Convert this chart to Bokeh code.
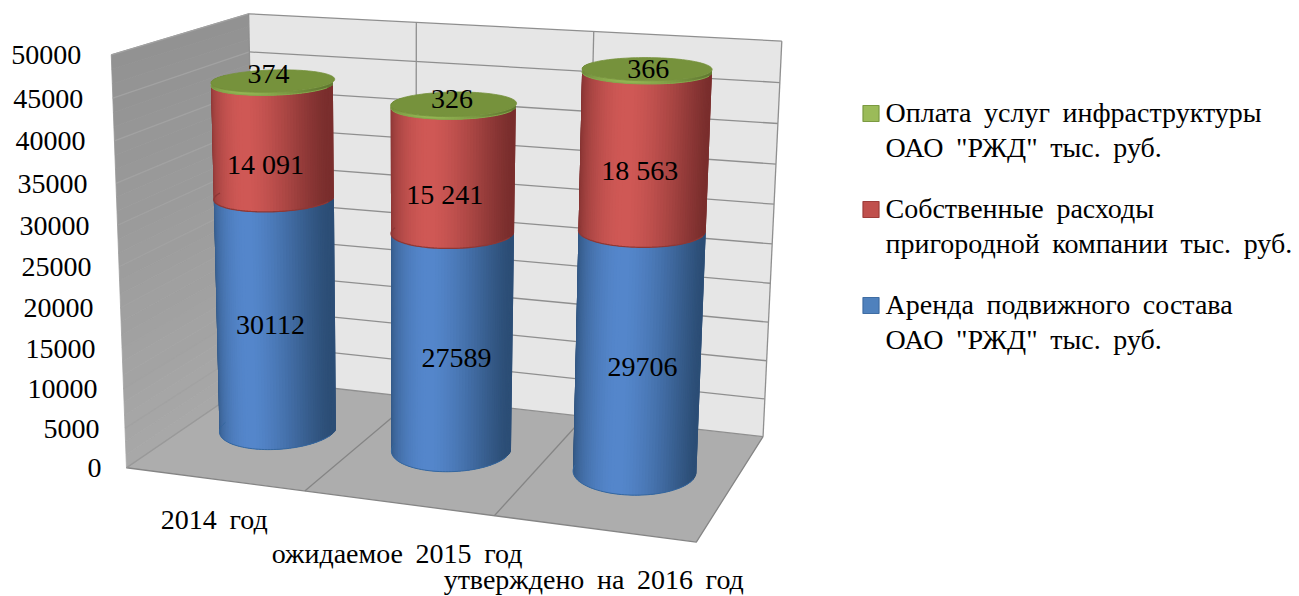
import numpy as np
from bokeh.plotting import figure
from bokeh.models import Range1d
from bokeh.core.properties import value
from bokeh.embed import file_html
from bokeh.resources import INLINE

GAP = " \u2009"  # the reference sets its words with wide gaps
categories = [f"2014{GAP}год", f"ожидаемое{GAP}2015{GAP}год", f"утверждено{GAP}на{GAP}2016{GAP}год"]
rent = [30112, 27589, 29706]
own_costs = [14091, 15241, 18563]
infra = [374, 326, 366]
y_ticks = [0, 5000, 10000, 15000, 20000, 25000, 30000, 35000, 40000, 45000, 50000]
own_labels = ["14 091", "15 241", "18 563"]
legend_lines = [[f"Оплата{GAP}услуг{GAP}инфраструктуры", f'ОАО{GAP}"РЖД"{GAP}тыс.{GAP}руб.'],
                [f"Собственные{GAP}расходы", f"пригородной{GAP}компании{GAP}тыс.{GAP}руб."],
                [f"Аренда{GAP}подвижного{GAP}состава", f'ОАО{GAP}"РЖД"{GAP}тыс.{GAP}руб.']]

YMAX = 50000.0
FONT = value("Liberation Serif")
FS = "28px"

# camera fitted to the picture (u along categories, d depth 0=back..1=front, v = value/YMAX)
world = [(0,0,1),(1/3,0,1),(2/3,0,1),(1,0,1),(1,0,0),(0,0,0),(0,1,0),(1,1,0),(1/3,1,0),(2/3,1,0),(0,1,1),
         (1/6,.5,0),(1/2,.5,0),(5/6,.5,0)]
image = [(250,13),(416,23),(593,31),(781,40),(763,435),(252,380),(127,467),(695,543),(305,490),(493,515),(109,54),
         (279.5,430),(452.5,450),(635.5,475)]
A = []
for (X,Y,Z),(x,y) in zip(world,image):
    x/=1000; y/=1000
    A.append([X,Y,Z,1,0,0,0,0,-x*X,-x*Y,-x*Z,-x])
    A.append([0,0,0,0,X,Y,Z,1,-y*X,-y*Y,-y*Z,-y])
P = np.linalg.svd(np.array(A))[2][-1].reshape(3,4)

def proj(u,d,val):
    u,d,val = np.broadcast_arrays(np.asarray(u,float),np.asarray(d,float),np.asarray(val,float)/YMAX)
    h = P @ np.stack([u,d,val,np.ones_like(u)])
    return (1000*h[0]/h[2]).tolist(), (1000*h[1]/h[2]).tolist()

W,H = 1299,596
p = figure(width=W,height=H,output_backend="svg",toolbar_location=None,
           x_range=Range1d(0,W),y_range=Range1d(H,0),min_border=0)
p.axis.visible=False; p.grid.visible=False; p.outline_line_color=None
p.background_fill_color="white"; p.border_fill_color="white"

def mix(a,b,t):
    a,b=np.array(a,float),np.array(b,float)
    c=a+(b-a)*t
    return "#%02x%02x%02x"%tuple(int(round(x)) for x in c)

# left wall gradient
vs=np.linspace(0,YMAX,31)
xs,ys,cs=[],[],[]
for i in range(30):
    x,y=proj([0,0,0,0],[1,0,0,1],[vs[i],vs[i],vs[i+1],vs[i+1]])
    xs.append(x);ys.append(y);cs.append(mix((168,168,168),(146,146,146),i/29))
p.patches(xs,ys,fill_color=cs,line_color=cs,line_width=0.8)
# back wall, floor
x,y=proj([0,1,1,0],[0,0,0,0],[0,0,YMAX,YMAX]); p.patch(x,y,fill_color="#e6e6e6",line_color=None)
x,y=proj([0,1,1,0],[0,0,1,1],[0,0,0,0]); p.patch(x,y,fill_color="#adadad",line_color=None)
# grid
gx,gy,gc=[],[],[]
for t in y_ticks:
    x,y=proj([0,1],[0,0],[t,t]); gx.append(x);gy.append(y);gc.append("#8f8f8f")
    x,y=proj([0,0],[1,0],[t,t]); gx.append(x);gy.append(y);gc.append("#a2a2a2")
for k in (1/3,2/3):
    x,y=proj([k,k],[0,0],[0,YMAX]); gx.append(x);gy.append(y);gc.append("#8f8f8f")
    x,y=proj([k,k],[0,1],[0,0]); gx.append(x);gy.append(y);gc.append("#858585")
x,y=proj([1,1],[0,0],[0,YMAX]); gx.append(x);gy.append(y);gc.append("#8f8f8f")
x,y=proj([0,0],[0,0],[0,YMAX]); gx.append(x);gy.append(y);gc.append("#8f8f8f")
x,y=proj([0,1,1],[1,1,0],[0,0,0]); gx.append(x);gy.append(y);gc.append("#858585")
x,y=proj([0,0],[0,1],[0,0]); gx.append(x);gy.append(y);gc.append("#999999")
p.multi_line(gx,gy,line_color=gc,line_width=1.3)

# cylinders
RU,RD,D0,U_SHIFT=0.1045,0.225,0.47,-0.006
theta=np.linspace(-0.2,np.pi+0.2,73)
n=len(theta)-1
order=np.argsort(-np.abs(np.cos((theta[:-1]+theta[1:])/2)))
def segment(u0,v0,v1,edge,mid):
    us=u0+RU*np.cos(theta); ds=D0+RD*np.sin(theta)
    xa,ya=proj(us,ds,np.full_like(us,v0)); xb,yb=proj(us,ds,np.full_like(us,v1))
    sx,sy,sc=[],[],[]
    for i in order:
        j0=max(i-1,0); j1=min(i+2,n)
        idx=list(range(j0,j1+1))
        sx.append([xa[k] for k in idx]+[xb[k] for k in idx[::-1]])
        sy.append([ya[k] for k in idx]+[yb[k] for k in idx[::-1]])
        c=np.cos((theta[i]+theta[i+1])/2)+0.01
        sc.append(mix(mid,edge,min(1,abs(c)**1.55)))
    p.patches(sx,sy,fill_color=sc,line_color=None)

def disc(u0,v,col):
    t=np.linspace(0,2*np.pi,121)
    x,y=proj(u0+RU*np.cos(t),D0+RD*np.sin(t),np.full_like(t,v))
    p.patch(x,y,fill_color=col,line_color=col,line_width=0.8)

def arc(u0,v,col,w=1.2):
    t=np.linspace(0.05,np.pi-0.05,60)
    x,y=proj(u0+RU*np.cos(t),D0+RD*np.sin(t),np.full_like(t,v))
    p.line(x,y,line_color=col,line_width=w)

BLUE=((44,78,118),(84,134,203)); RED=((122,46,45),(207,88,85)); GREEN=((98,122,50),(146,180,82))
# offsets of the data labels: (green, red, blue)
label_off=[[(-4,-8),(-8,22),(-6,8)],[(-2,-7),(-9,23),(4,13)],[(0,-1),(-6,17),(3,12)]]
lx,ly,lt=[],[],[]
centers=[1/6,1/2,5/6]
for i,uc in enumerate(centers):
    u0=uc+U_SHIFT
    a=rent[i]; b=a+own_costs[i]; c=b+infra[i]
    segment(u0,0,a,*BLUE)
    arc(u0,0,"#35679f",1.0)
    segment(u0,a,b,*RED)
    arc(u0,a,"#8d3836",1.3)
    segment(u0,b,c,*GREEN)
    arc(u0,b,"#86a64c",1.0)
    disc(u0,c,"#76923c")
    for (lo,hi,txt,off) in ((0,a,str(rent[i]),label_off[i][2]),(a,b,own_labels[i],label_off[i][1]),(c,c,str(infra[i]),label_off[i][0])):
        x,y=proj(uc,0.5,(lo+hi)/2)
        lx.append(x+off[0]);ly.append(y+off[1]);lt.append(txt)
p.text(lx,ly,text=lt,text_font=FONT,text_font_size=FS,text_color="#000000",text_align="center",text_baseline="middle")

# value axis labels
tx,ty=proj(np.zeros(len(y_ticks)),np.ones(len(y_ticks)),y_ticks)
p.text([a-25-5*t/YMAX for a,t in zip(tx,y_ticks)],[b+0.5 for b in ty],text=[str(t) for t in y_ticks],text_font=FONT,text_font_size=FS,text_color="#000000",text_align="right",text_baseline="middle")

# category labels
cx,cy=proj(centers,[1,1,1],[0,0,0])
drop=[40,50,51]; shift=[0,-1,0]
p.text([a+s for a,s in zip(cx,shift)],[b+d for b,d in zip(cy,drop)],text=categories,text_font=FONT,text_font_size=FS,text_color="#000000",text_align="center",text_baseline="middle")

# legend
swatch=[("#9bbb59","#7b9a41"),("#c0504d","#9e3c3a"),("#4f81bd","#3f6da3")]
tops=[113,209,305]
for (f,l),yc,lines in zip(swatch,tops,legend_lines):
    p.quad(left=[862.5],right=[878.5],top=[yc-8],bottom=[yc+8],fill_color=f,line_color=l,line_width=1.2)
    p.text([885,885],[yc-1,yc+34],text=lines,text_font=FONT,text_font_size=FS,text_color="#000000",text_align="left",text_baseline="middle")

open("out.html","w").write(file_html(p,INLINE))
